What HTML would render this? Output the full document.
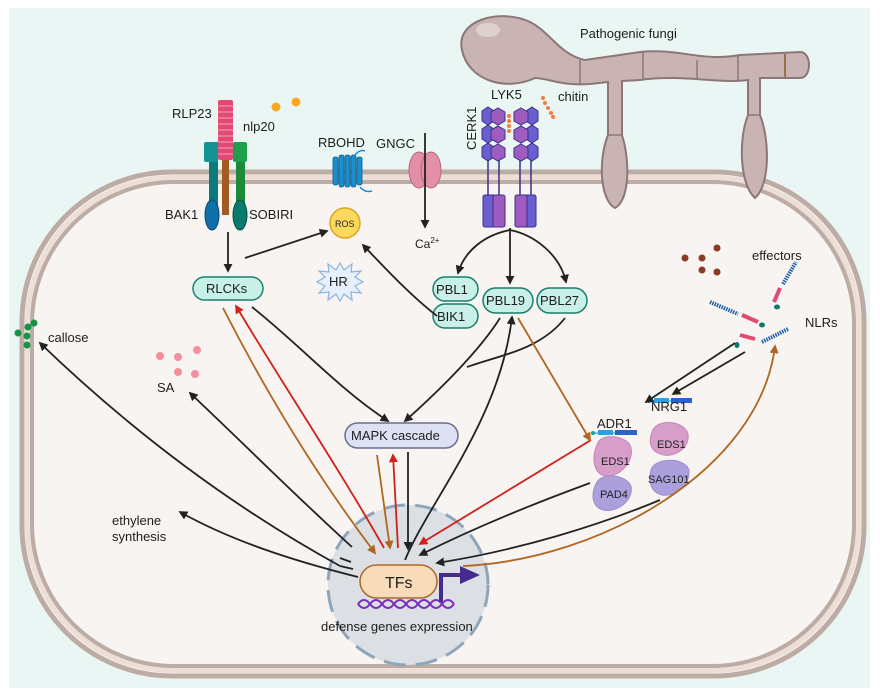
<!DOCTYPE html>
<html><head><meta charset="utf-8"><style>
html,body{margin:0;padding:0;background:#fff;}
svg{display:block;font-family:"Liberation Sans",sans-serif;}
</style></head><body>
<svg width="880" height="695" viewBox="0 0 880 695" xmlns="http://www.w3.org/2000/svg">
<defs>
<marker id="ak" viewBox="0 0 10 10" refX="8" refY="5" markerWidth="5" markerHeight="5" orient="auto"><path d="M0,0 L10,5 L0,10 z" fill="#222"/></marker>
<marker id="ar" viewBox="0 0 10 10" refX="8" refY="5" markerWidth="5" markerHeight="5" orient="auto"><path d="M0,0 L10,5 L0,10 z" fill="#d1201b"/></marker>
<marker id="ab" viewBox="0 0 10 10" refX="8" refY="5" markerWidth="5" markerHeight="5" orient="auto"><path d="M0,0 L10,5 L0,10 z" fill="#b0661f"/></marker>
</defs>
<rect x="9" y="8" width="861" height="680" fill="#eaf6f3"/>
<!-- cell -->
<rect x="22" y="172" width="842" height="504" rx="150" ry="150" fill="#f7f4f1" stroke="#bcaca4" stroke-width="5"/>
<rect x="28" y="178" width="830" height="492" rx="145" ry="145" fill="none" stroke="#eddfd8" stroke-width="6"/>
<rect x="32" y="182" width="822" height="484" rx="142" ry="142" fill="none" stroke="#bcaca4" stroke-width="4"/>
<!-- fungus -->
<g fill="#c9b4b3" stroke="#8c7677" stroke-width="2">
<path d="M462,50 C455,20 500,8 530,22 C550,32 560,55 585,60 L640,52 C680,48 700,62 740,55 L800,52 C812,52 812,78 800,78 L760,78 L760,115 C770,140 770,185 755,198 C740,185 738,140 748,115 L748,80 C720,84 680,74 640,80 L622,81 L622,135 C630,160 630,200 615,208 C600,200 598,160 608,135 L608,82 L590,84 C560,86 548,78 535,78 C505,92 468,80 462,50 Z"/>
</g>
<ellipse cx="488" cy="30" rx="12" ry="7" fill="#ddd0cf"/>
<g stroke="#8c7677" stroke-width="1.5"><line x1="580" y1="60" x2="580" y2="84"/><line x1="643" y1="52" x2="643" y2="80"/><line x1="697" y1="60" x2="697" y2="78"/><line x1="738" y1="55" x2="738" y2="80"/><line x1="608" y1="135" x2="622" y2="135"/><line x1="748" y1="115" x2="760" y2="115"/></g>
<line x1="785" y1="54" x2="785" y2="77" stroke="#8a5a2a" stroke-width="1.5"/>
<!-- LYK5/CERK1 -->
<g fill="#6a5fd0" stroke="#3d2f8a" stroke-width="1">
<rect x="483" y="195" width="12" height="32" rx="2"/><rect x="524" y="195" width="12" height="32" rx="2"/>
</g>
<g fill="#9f5cc0" stroke="#3d2f8a" stroke-width="1">
<rect x="493" y="195" width="12" height="32" rx="2"/><rect x="515" y="195" width="12" height="32" rx="2"/>
</g>
<g stroke="#3d2f8a" stroke-width="1.5"><line x1="488" y1="150" x2="488" y2="195"/><line x1="499" y1="150" x2="499" y2="195"/><line x1="520" y1="150" x2="520" y2="195"/><line x1="531" y1="150" x2="531" y2="195"/></g>
<g stroke="#3d2f8a" stroke-width="1">
<g fill="#6a5fd0"><polygon points="488,107 494,111 494,121 488,125 482,121 482,111"/><polygon points="488,125 494,129 494,139 488,143 482,139 482,129"/><polygon points="488,143 494,147 494,157 488,161 482,157 482,147"/>
<polygon points="532,107 538,111 538,121 532,125 526,121 526,111"/><polygon points="532,125 538,129 538,139 532,143 526,139 526,129"/><polygon points="532,143 538,147 538,157 532,161 526,157 526,147"/></g>
<g fill="#9f5cc0"><polygon points="498,108 505,112 505,121 498,125 491,121 491,112"/><polygon points="498,126 505,130 505,139 498,143 491,139 491,130"/><polygon points="498,144 505,148 505,157 498,161 491,157 491,148"/>
<polygon points="521,108 528,112 528,121 521,125 514,121 514,112"/><polygon points="521,126 528,130 528,139 521,143 514,139 514,130"/><polygon points="521,144 528,148 528,157 521,161 514,157 514,148"/></g>
</g>
<g fill="#f57c3b"><circle cx="509" cy="116" r="2"/><circle cx="509" cy="121" r="2"/><circle cx="509" cy="126" r="2"/><circle cx="509" cy="131" r="2"/><circle cx="543" cy="98" r="2"/><circle cx="545" cy="103" r="2"/><circle cx="548" cy="108" r="2"/><circle cx="551" cy="113" r="2"/><circle cx="553" cy="117" r="2"/></g>
<!-- RLP23 complex -->
<rect x="209" y="142" width="9" height="70" fill="#0a7a7a"/>
<rect x="222" y="160" width="7" height="55" fill="#a65a22"/>
<rect x="236" y="142" width="9" height="70" fill="#1d8a3a"/>
<g fill="#e14a72"><rect x="218" y="100" width="15" height="60" rx="2"/></g>
<g stroke="#f7a1b5" stroke-width="1"><line x1="218" y1="106" x2="233" y2="106"/><line x1="218" y1="112" x2="233" y2="112"/><line x1="218" y1="118" x2="233" y2="118"/><line x1="218" y1="124" x2="233" y2="124"/><line x1="218" y1="130" x2="233" y2="130"/><line x1="218" y1="136" x2="233" y2="136"/><line x1="218" y1="142" x2="233" y2="142"/><line x1="218" y1="148" x2="233" y2="148"/><line x1="218" y1="154" x2="233" y2="154"/></g>
<rect x="204" y="142" width="14" height="20" rx="2" fill="#159393"/>
<rect x="233" y="142" width="14" height="20" rx="2" fill="#1ca04d"/>
<ellipse cx="212" cy="215" rx="7" ry="15" fill="#0f6fa8" stroke="#0a4a70"/>
<ellipse cx="240" cy="215" rx="7" ry="15" fill="#0a7a6a" stroke="#05504a"/>
<circle cx="276" cy="107" r="4.5" fill="#f9a825"/><circle cx="296" cy="102" r="4.5" fill="#f9a825"/>
<!-- RBOHD -->
<g fill="#1a8fd0" stroke="#0d5f90" stroke-width="0.8"><rect x="333" y="157" width="5" height="28" rx="2"/><rect x="339" y="155" width="5" height="32" rx="2"/><rect x="345" y="155" width="5" height="32" rx="2"/><rect x="351" y="155" width="5" height="32" rx="2"/><rect x="357" y="157" width="5" height="28" rx="2"/></g>
<path d="M355,155 q5,-6 10,-4 M360,187 q5,6 12,4" fill="none" stroke="#1a8fd0" stroke-width="1.5"/>
<!-- GNGC -->
<ellipse cx="419" cy="170" rx="10" ry="18" fill="#e38fa8" stroke="#b06a80"/>
<ellipse cx="431" cy="170" rx="10" ry="18" fill="#e38fa8" stroke="#b06a80"/>
<line x1="425" y1="133" x2="425" y2="227" stroke="#222" stroke-width="1.8" marker-end="url(#ak)"/>
<!-- ROS, HR -->
<circle cx="345" cy="223" r="15" fill="#fcd85c" stroke="#d9a520" stroke-width="1.5"/>
<polygon points="340,263 344,270 352,264 351,272 361,271 355,277 363,282 355,286 361,293 351,292 352,300 344,294 340,301 336,294 328,300 329,292 319,293 325,286 317,282 325,277 319,271 329,272 328,264 336,270" fill="#e5f0fb" stroke="#8fb2e0" stroke-width="1.2"/>
<!-- nucleus -->
<circle cx="408" cy="585" r="80" fill="#dcdfe3" stroke="#8ea6bb" stroke-width="3" stroke-dasharray="22,10"/>
<!-- DNA -->
<path d="M358,604 q6,-8 12,0 q6,8 12,0 q6,-8 12,0 q6,8 12,0 q6,-8 12,0 q6,8 12,0 q6,-8 12,0 q6,8 12,0" fill="none" stroke="#7b2fbf" stroke-width="2"/>
<path d="M358,604 q6,8 12,0 q6,-8 12,0 q6,8 12,0 q6,-8 12,0 q6,8 12,0 q6,-8 12,0 q6,8 12,0 q6,-8 12,0" fill="none" stroke="#7b2fbf" stroke-width="2"/>
<path d="M441,602 L441,575 L462,575" fill="none" stroke="#472a8f" stroke-width="4"/>
<polygon points="460,566 480,575 460,584" fill="#472a8f"/>
<!-- effectors, NLRs, SA, callose -->
<g fill="#8a3b27"><circle cx="685" cy="258" r="3.5"/><circle cx="702" cy="258" r="3.5"/><circle cx="717" cy="248" r="3.5"/><circle cx="702" cy="270" r="3.5"/><circle cx="717" cy="272" r="3.5"/></g>
<g stroke="#1f5fa8" stroke-width="4" stroke-dasharray="1.5,1"><line x1="710" y1="302" x2="738" y2="314"/><line x1="783" y1="284" x2="796" y2="262"/><line x1="762" y1="342" x2="788" y2="329"/></g>
<g stroke="#e14a72" stroke-width="4"><line x1="742" y1="315" x2="758" y2="322"/><line x1="780" y1="288" x2="774" y2="302"/><line x1="740" y1="335" x2="755" y2="339"/></g>
<g fill="#0a7a6a"><ellipse cx="762" cy="325" rx="3" ry="2.5"/><ellipse cx="777" cy="307" rx="3" ry="2.5"/><ellipse cx="737" cy="345" rx="2.5" ry="3"/></g>
<g fill="#f48e9a"><circle cx="160" cy="356" r="4"/><circle cx="178" cy="357" r="4"/><circle cx="197" cy="350" r="4"/><circle cx="178" cy="372" r="4"/><circle cx="195" cy="374" r="4"/></g>
<g fill="#159447"><circle cx="28" cy="327" r="3.5"/><circle cx="34" cy="323" r="3.5"/><circle cx="18" cy="333" r="3.5"/><circle cx="27" cy="336" r="3.5"/><circle cx="27" cy="345" r="3.5"/></g>
<!-- ADR1/NRG1 -->
<g><line x1="593" y1="433" x2="637" y2="433" stroke="#1a8fd0" stroke-width="1"/><rect x="598" y="430" width="15" height="5" fill="#29a3e3"/><rect x="615" y="430" width="22" height="5" fill="#2a63d0"/><circle cx="593" cy="433" r="2" fill="#0aa"/>
<line x1="649" y1="401" x2="692" y2="401" stroke="#1a8fd0" stroke-width="1"/><rect x="654" y="398" width="15" height="5" fill="#29a3e3"/><rect x="671" y="398" width="21" height="5" fill="#2a63d0"/><circle cx="649" cy="401" r="2" fill="#0aa"/></g>
<path d="M597,445 C600,432 625,436 630,445 C636,458 622,477 606,476 C592,474 592,455 597,445 Z" fill="#d69ec9" stroke="#c287b6"/>
<path d="M596,484 C600,472 626,474 631,486 C634,502 615,513 603,510 C590,506 592,492 596,484 Z" fill="#ab9fdc" stroke="#9a8fcc"/>
<path d="M652,432 C656,418 684,420 688,434 C690,448 675,457 664,455 C650,452 648,442 652,432 Z" fill="#d69ec9" stroke="#c287b6"/>
<path d="M651,470 C654,458 684,456 689,470 C690,488 672,497 662,495 C650,492 648,480 651,470 Z" fill="#ab9fdc" stroke="#9a8fcc"/>
<!-- boxes -->
<g stroke="#1d7d6e" stroke-width="1.5" fill="#c8efe8">
<rect x="193" y="277" width="70" height="23" rx="11.5"/>
<rect x="433" y="277" width="45" height="24" rx="12"/>
<rect x="433" y="304" width="45" height="24" rx="12"/>
<rect x="483" y="288" width="50" height="25" rx="12.5"/>
<rect x="537" y="288" width="50" height="25" rx="12.5"/>
</g>
<rect x="345" y="423" width="113" height="25" rx="12.5" fill="#dde1f3" stroke="#6a6f90" stroke-width="1.5"/>
<rect x="360" y="565" width="77" height="33" rx="16.5" fill="#f8dbb9" stroke="#b0662e" stroke-width="1.5"/>
<!-- arrows black -->
<g fill="none" stroke="#222" stroke-width="1.8" marker-end="url(#ak)">
<line x1="228" y1="232" x2="228" y2="271"/>
<line x1="245" y1="258" x2="327" y2="231"/>
<path d="M437,316 C410,295 385,268 363,245"/>
<path d="M510,228 L510,283"/>
<path d="M510,230 C485,235 465,250 458,273"/>
<path d="M510,230 C535,235 560,255 566,282"/>
<path d="M252,307 C300,345 340,390 388,421"/>
<path d="M500,318 C480,350 440,390 405,421"/>
<path d="M405,560 C430,500 500,420 512,317"/>
<line x1="408" y1="452" x2="408" y2="549"/>
<line x1="735" y1="343" x2="646" y2="402"/>
<line x1="745" y1="352" x2="673" y2="394"/>
<path d="M590,483 C530,505 470,530 420,555"/>
<path d="M660,500 C600,525 520,550 437,563"/>
<path d="M352,547 C300,500 240,440 190,393"/>
<path d="M340,566 C220,500 120,420 40,343"/>
<path d="M358,577 C290,560 230,540 180,512"/>
</g>
<path d="M565,318 C540,350 500,355 467,367" fill="none" stroke="#222" stroke-width="1.8"/>
<path d="M351,562 L340,558 M353,569 L340,566" stroke="#222" stroke-width="1.8"/>
<!-- red -->
<g fill="none" stroke="#d1201b" stroke-width="1.8" marker-end="url(#ar)">
<path d="M384,548 C340,470 280,380 236,306"/>
<line x1="398" y1="548" x2="393" y2="455"/>
<line x1="591" y1="440" x2="420" y2="544"/>
</g>
<!-- brown -->
<g fill="none" stroke="#b0661f" stroke-width="1.8" marker-end="url(#ab)">
<path d="M223,308 C270,400 320,480 375,553"/>
<line x1="377" y1="455" x2="390" y2="548"/>
<line x1="518" y1="318" x2="590" y2="440"/>
<path d="M463,566 C600,560 760,470 775,346"/>
</g>
<!-- text -->
<g font-size="13" fill="#1d1d1d">
<text x="580" y="38">Pathogenic fungi</text>
<text x="491" y="99">LYK5</text>
<text x="558" y="101">chitin</text>
<text x="476" y="150" transform="rotate(-90 476 150)">CERK1</text>
<text x="172" y="118">RLP23</text>
<text x="243" y="131">nlp20</text>
<text x="318" y="147">RBOHD</text>
<text x="376" y="148">GNGC</text>
<text x="165" y="219">BAK1</text>
<text x="249" y="219">SOBIRI</text>
<text x="415" y="248" font-size="12">Ca<tspan font-size="8" dy="-5">2+</tspan></text>
<text x="752" y="260">effectors</text>
<text x="805" y="327">NLRs</text>
<text x="48" y="342">callose</text>
<text x="157" y="392">SA</text>
<text x="112" y="525">ethylene</text>
<text x="112" y="541">synthesis</text>
<text x="321" y="631">defense genes expression</text>
<text x="597" y="428">ADR1</text>
<text x="651" y="411">NRG1</text>
<text x="206" y="293">RLCKs</text>
<text x="436" y="294">PBL1</text>
<text x="437" y="321">BIK1</text>
<text x="486" y="305">PBL19</text>
<text x="540" y="305">PBL27</text>
<text x="351" y="440">MAPK cascade</text>
<text x="329" y="286">HR</text>
</g>
<g font-size="11" fill="#222">
<text x="601" y="465">EDS1</text>
<text x="600" y="498">PAD4</text>
<text x="657" y="448">EDS1</text>
<text x="648" y="483">SAG101</text>
<text x="335" y="227" font-size="9">ROS</text>
</g>
<text x="385" y="588" font-size="16" fill="#1d1d1d">TFs</text>
</svg>
</body></html>
